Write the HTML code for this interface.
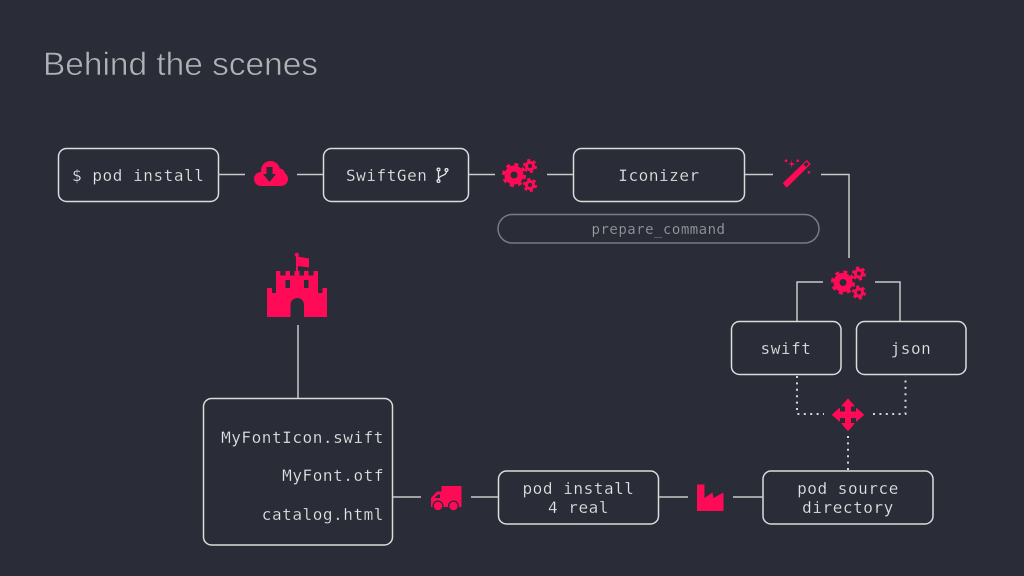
<!DOCTYPE html>
<html><head><meta charset="utf-8"><style>
html,body{margin:0;padding:0;background:#2a2c37;width:1024px;height:576px;overflow:hidden}
svg{display:block}
text{font-family:"DejaVu Sans Mono","Liberation Mono",monospace;font-size:16px;fill:#e6e6e6;letter-spacing:.55px;stroke:#2a2c37;stroke-width:.2px}
.b{fill:none;stroke:#dcdcdc;stroke-width:1.5}
.l{fill:none;stroke:#c9c9c9;stroke-width:1.5}
.d{fill:none;stroke:#d6d6d6;stroke-width:2;stroke-dasharray:2 4.4}
.p{fill:#ff0a56}
</style></head><body>
<svg width="1024" height="576" viewBox="0 0 1024 576" xmlns="http://www.w3.org/2000/svg">
<defs>
<g id="gears" fill="none" stroke="#ff0a56">
<circle cx="0" cy="0" r="6.5" stroke-width="6"/>
<circle cx="0" cy="0" r="10.300" stroke-width="3.600" stroke-dasharray="4 4.090"/>
<circle cx="16" cy="-9" r="3.600" stroke-width="3.200"/>
<circle cx="16" cy="-9" r="6" stroke-width="2.200" stroke-dasharray="3.140 3.140"/>
<circle cx="16" cy="10" r="3.600" stroke-width="3.200"/>
<circle cx="16" cy="10" r="6" stroke-width="2.200" stroke-dasharray="3.140 3.140"/>
</g>
</defs>
<text x="43" y="75" textLength="275" lengthAdjust="spacingAndGlyphs" style="font-family:'Liberation Sans',sans-serif;font-size:32px;fill:#b0b1b5;letter-spacing:0;stroke-width:.55px">Behind the scenes</text>

<!-- boxes -->
<rect class="b" x="58.500" y="148.500" width="160" height="53" rx="8"/>
<rect class="b" x="323.500" y="148.500" width="145" height="53" rx="8"/>
<rect class="b" x="573.500" y="148.500" width="171" height="53" rx="8"/>
<rect x="498" y="214.500" width="321" height="28.500" rx="14.200" fill="none" stroke="#797b82" stroke-width="1.500"/>
<rect class="b" x="731.500" y="321.500" width="109.500" height="53" rx="8"/>
<rect class="b" x="856.500" y="321.500" width="109.500" height="53" rx="8"/>
<rect class="b" x="203.500" y="398.500" width="189" height="146.500" rx="8"/>
<rect class="b" x="498.500" y="471" width="160" height="53" rx="8"/>
<rect class="b" x="763" y="471" width="170" height="53" rx="8"/>

<!-- connectors -->
<path class="l" d="M218 174.500H245M297 174.500H323M469 174.500H495M547 174.500H573M745 174.500H773M821 174.500H849V258M823 282H797V321M875 282H900V321M298 325V398M393 497H421M471 497H498M659 497H688M733 497H763"/>
<path class="d" d="M797 376V414H824"/>
<path class="d" d="M873 414H905.500V376"/>
<path class="d" d="M848 436V470"/>

<!-- text -->
<text x="72" y="181">$ pod install</text>
<text x="346" y="181">SwiftGen</text>
<text x="659" y="181" text-anchor="middle">Iconizer</text>
<text x="658.500" y="234" text-anchor="middle" style="font-size:14px;fill:#a0a1a6;letter-spacing:.5px">prepare_command</text>
<text x="786" y="354" text-anchor="middle">swift</text>
<text x="911" y="354" text-anchor="middle">json</text>
<text x="384" y="443" text-anchor="end">MyFontIcon.swift</text>
<text x="384" y="481" text-anchor="end">MyFont.otf</text>
<text x="384" y="520" text-anchor="end">catalog.html</text>
<text x="578.500" y="494" text-anchor="middle">pod install</text>
<text x="578.500" y="513" text-anchor="middle">4 real</text>
<text x="848" y="494" text-anchor="middle">pod source</text>
<text x="848" y="513" text-anchor="middle">directory</text>

<!-- branch icon -->
<g fill="none" stroke="#e6e6e6" stroke-width="1.300">
<circle cx="438.500" cy="169.500" r="1.400"/><circle cx="438.500" cy="181" r="1.400"/><circle cx="446.500" cy="170" r="1.400"/>
<path d="M438.500 171V179.500M446.500 171.500C446.500 176 439 175 438.500 179"/>
</g>

<!-- cloud -->
<g class="p">
<circle cx="270.500" cy="170.500" r="9.500"/>
<circle cx="261" cy="179" r="7"/>
<circle cx="281" cy="179" r="7"/>
<circle cx="279.500" cy="174" r="5.500"/>
<rect x="261" y="175" width="20" height="11"/>
</g>
<path fill="#2a2c37" d="M266.500 167H272.500V174H276L269.500 182L263 174H266.500Z"/>

<use href="#gears" x="514" y="175"/>
<use href="#gears" x="843" y="282.500"/>

<!-- wand -->
<path class="p" d="M782.700 183.300L806.700 160L810.800 164L786.700 187.700Z"/>
<path fill="#2a2c37" d="M803.500 164.500L806.500 161.800L808.800 164L806 166.800Z"/>
<path class="p" d="M791.700 160L792.400 163.300L795.700 164L792.400 164.700L791.700 168L791 164.700L787.700 164L791 163.300Z"/>
<circle class="p" cx="786" cy="160.700" r="1.300"/><circle class="p" cx="797.700" cy="160.700" r="1.300"/><circle class="p" cx="809" cy="172.300" r="1.300"/>

<!-- castle -->
<path class="p" fill-rule="evenodd" d="M267 288H272V293H276V271H280.300V275.500H285.500V271H290V275.500H294.500V271H299.500V275.500H304V271H308.500V275.500H313.500V271H318V293H322.500V288H327V317H304V305C304 300.500 301 298 297.500 298C294 298 290.500 300.500 290.500 305V317H267ZM285.500 280V288H290V280ZM304 280V288H308.500V280Z"/>
<rect class="p" x="296" y="256" width="2" height="16"/>
<circle class="p" cx="296.800" cy="254.700" r="2"/>
<path class="p" d="M298 256.500L309 258.500V267.500L298 266Z"/>

<!-- move arrows -->
<path class="p" stroke="#ff0a56" stroke-width="1" stroke-linejoin="round" d="M848 399L854 406H850.500V412H856.500V408.500L863.500 414.700L856.500 421V417.500H850.500V423.500H854L848 430.500L842 423.500H845.500V417.500H839.500V421L832.500 414.700L839.500 408.500V412H845.500V406H842Z"/>

<!-- truck -->
<path class="p" d="M441.500 486H461.500V507H441.500Z"/>
<path class="p" d="M431 498L437 491.500H442V507H431Z"/>
<path fill="#2a2c37" d="M434.500 498L438 494.500H440V498Z"/>
<circle cx="438" cy="506" r="5.500" fill="#2a2c37"/><circle cx="453.500" cy="506" r="5.500" fill="#2a2c37"/>
<circle class="p" cx="438" cy="506" r="4.200"/>
<circle class="p" cx="453.500" cy="506" r="4.200"/>

<!-- factory -->
<path class="p" d="M697 484.500H704.500V498L712.500 492.500L713.500 498L723.500 492.500V511H697Z"/>
</svg>
</body></html>
